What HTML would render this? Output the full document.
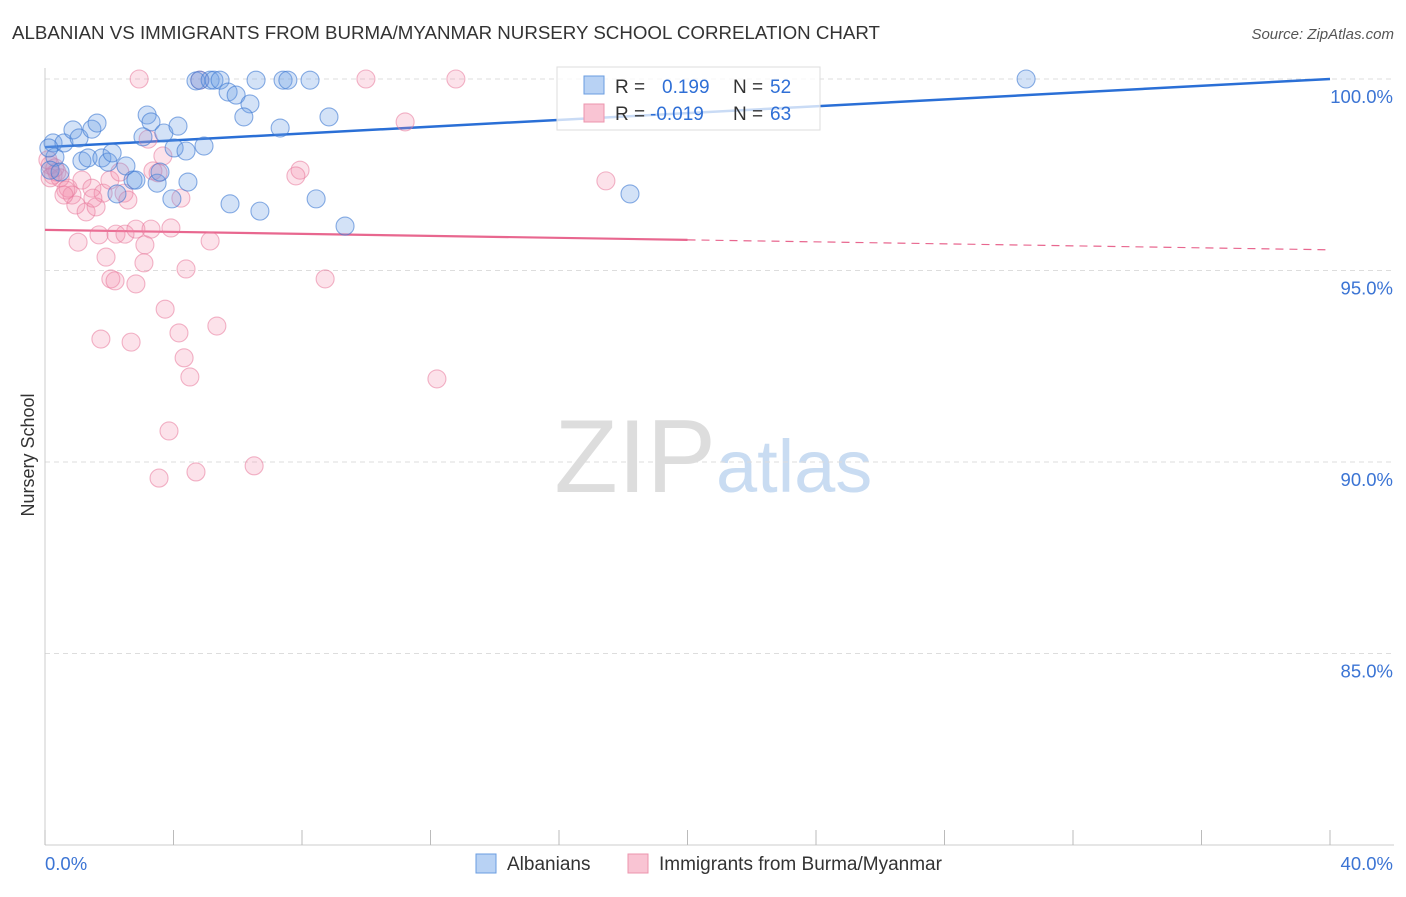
<!DOCTYPE html>
<html><head><meta charset="utf-8"><style>
body{margin:0;background:#fff;font-family:"Liberation Sans",sans-serif}
svg text{font-family:"Liberation Sans",sans-serif}
</style></head><body>
<svg id="chart" width="1406" height="892" viewBox="0 0 1406 892">
<text x="12" y="39" font-size="18" fill="#333" textLength="868" lengthAdjust="spacingAndGlyphs">ALBANIAN VS IMMIGRANTS FROM BURMA/MYANMAR NURSERY SCHOOL CORRELATION CHART</text>
<text x="1394" y="39" font-size="15" fill="#555" text-anchor="end" font-style="italic">Source: ZipAtlas.com</text>
<text x="716" y="492" font-size="104" fill="#ddd" text-anchor="end" font-family="Liberation Serif">ZIP</text>
<text x="716" y="492" font-size="74" fill="#c9dcf2">atlas</text>
<text transform="translate(34,455) rotate(-90)" font-size="18" fill="#333" text-anchor="middle">Nursery School</text>
<g id="grid"></g><g id="ticks"></g><g id="trends"></g><g id="pts"></g>
<g>
<rect x="557" y="67" width="263" height="63" fill="rgba(255,255,255,0.75)" stroke="#ddd"/>
<rect x="584" y="76" width="20" height="18" fill="#b8d2f4" stroke="#6a9ce0"/>
<rect x="584" y="104" width="20" height="18" fill="#f9c4d3" stroke="#ec94ae"/>
<text x="615" y="93" font-size="19" fill="#333">R = </text><text x="662" y="93" font-size="19" fill="#2f6fd6">0.199</text>
<text x="733" y="93" font-size="19" fill="#333">N = </text><text x="770" y="93" font-size="19" fill="#2f6fd6">52</text>
<text x="615" y="120" font-size="19" fill="#333">R = </text><text x="650" y="120" font-size="19" fill="#2f6fd6">-0.019</text>
<text x="733" y="120" font-size="19" fill="#333">N = </text><text x="770" y="120" font-size="19" fill="#2f6fd6">63</text>
</g>
<g>
<rect x="476" y="854" width="20" height="19" fill="#b8d2f4" stroke="#6a9ce0"/>
<text x="507" y="870" font-size="19" fill="#333">Albanians</text>
<rect x="628" y="854" width="20" height="19" fill="#f9c4d3" stroke="#ec94ae"/>
<text x="659" y="870" font-size="19" fill="#333">Immigrants from Burma/Myanmar</text>
</g>
</svg>
<script>
const blueX=[0.25,0.31,0.16,0.59,0.87,1.06,1.46,1.62,1.15,1.34,1.77,1.96,2.09,2.52,2.74,2.83,2.24,3.18,3.30,3.05,3.70,4.14,4.02,4.39,3.49,3.58,4.45,3.95,4.95,4.70,4.82,5.14,5.26,5.45,5.70,5.95,6.38,6.19,6.57,7.41,7.56,8.25,7.32,8.84,5.76,6.69,8.44,9.34,18.21,30.54,0.12,0.47];
const blueY=[98.33,97.96,97.62,98.33,98.67,98.46,98.69,98.85,97.86,97.94,97.94,97.83,98.07,97.73,97.36,97.36,97.00,99.06,98.88,98.49,98.59,98.77,98.20,98.12,97.28,97.57,97.31,96.87,98.25,99.95,99.97,99.97,99.97,99.97,99.66,99.58,99.35,99.01,99.97,99.97,99.97,99.97,98.72,99.01,96.74,96.55,96.87,96.16,97.00,100.0,98.20,97.57];
const pinkX=[2.93,9.99,12.79,4.82,11.21,3.21,3.67,3.36,3.52,7.94,7.81,17.46,0.16,0.25,0.37,0.47,0.72,0.84,0.96,1.15,1.28,1.46,1.59,1.81,2.02,2.33,2.46,2.58,2.21,2.49,2.83,3.30,3.92,4.23,1.68,1.03,3.11,5.14,1.90,3.08,4.39,2.05,2.18,2.83,8.72,3.74,4.17,5.35,1.74,2.68,4.33,4.51,12.20,3.86,3.55,4.70,6.51,1.49,0.65,0.09,0.16,0.31,0.59];
const pinkY=[100,100,100,99.97,98.88,98.43,97.99,97.60,97.55,97.62,97.47,97.34,97.75,97.49,97.57,97.42,97.15,96.97,96.71,97.36,96.53,97.15,96.66,97.02,97.36,97.57,97.02,96.84,95.95,95.95,96.08,96.08,96.11,96.89,95.93,95.74,95.67,95.77,95.35,95.20,95.04,94.78,94.73,94.65,94.78,93.99,93.37,93.55,93.21,93.13,92.72,92.22,92.17,90.81,89.58,89.74,89.90,96.89,97.10,97.89,97.42,97.68,96.97];
const blueTrend=[98.22,100.0];
const pinkTrend=[96.06,95.54];
const yTicks=[100,95,90,85];
const xTickLabels=["0.0%","40.0%"];
const NS="http://www.w3.org/2000/svg";
const sx=v=>45+v*(1285/40);
const sy=v=>79+(100-v)*38.3;
function mk(tag,attrs,parent){const e=document.createElementNS(NS,tag);for(const k in attrs)e.setAttribute(k,attrs[k]);parent.appendChild(e);return e;}
const grid=document.getElementById('grid'),ticks=document.getElementById('ticks'),tr=document.getElementById('trends'),pts=document.getElementById('pts');
let ax=mk('line',{x1:45,y1:68,x2:45,y2:845,stroke:'#ccc'},ticks);


let bx=mk('line',{x1:45,y1:845,x2:1394,y2:845,stroke:'#ccc'},ticks);


yTicks.forEach(v=>{
 let g=mk('line',{x1:45,y1:sy(v),x2:1394,y2:sy(v),stroke:'#ddd','stroke-dasharray':'5,4'},grid);
 
 
 let t=mk('text',{x:1393,y:sy(v)+24,'font-size':18.5,fill:'#3b74d4','text-anchor':'end'},ticks);t.textContent=v.toFixed(1)+'%';
 
 
});
for(let i=0;i<=10;i++){let l=mk('line',{x1:sx(i*4),y1:830,x2:sx(i*4),y2:845,stroke:'#bbb'},ticks);
 
 }
let t0=mk('text',{x:45,y:870,'font-size':18.5,fill:'#3b74d4'},ticks);t0.textContent=xTickLabels[0];


let t1=mk('text',{x:1393,y:870,'font-size':18.5,fill:'#3b74d4','text-anchor':'end'},ticks);t1.textContent=xTickLabels[1];


pinkX.forEach((x,i)=>{let c=mk('circle',{cx:sx(x),cy:sy(pinkY[i]),r:9,fill:'rgba(242,140,170,0.25)',stroke:'rgba(232,120,155,0.55)','stroke-width':1.1},pts);
 
 });
blueX.forEach((x,i)=>{let c=mk('circle',{cx:sx(x),cy:sy(blueY[i]),r:9,fill:'rgba(110,160,230,0.3)',stroke:'rgba(60,120,210,0.6)','stroke-width':1.1},pts);
 
 });
let bl=mk('line',{x1:sx(0),y1:sy(blueTrend[0]),x2:sx(40),y2:sy(blueTrend[1]),stroke:'#2a6fd6','stroke-width':2.5},tr);


const pm=(pinkTrend[0]+pinkTrend[1])/2;
let pl=mk('line',{x1:sx(0),y1:sy(pinkTrend[0]),x2:sx(20),y2:sy(pm),stroke:'#e8678f','stroke-width':2.2},tr);


let pd=mk('line',{x1:sx(20),y1:sy(pm),x2:sx(40),y2:sy(pinkTrend[1]),stroke:'#e8678f','stroke-width':1.2,'stroke-dasharray':'8,6'},tr);


</script>
</body></html>
